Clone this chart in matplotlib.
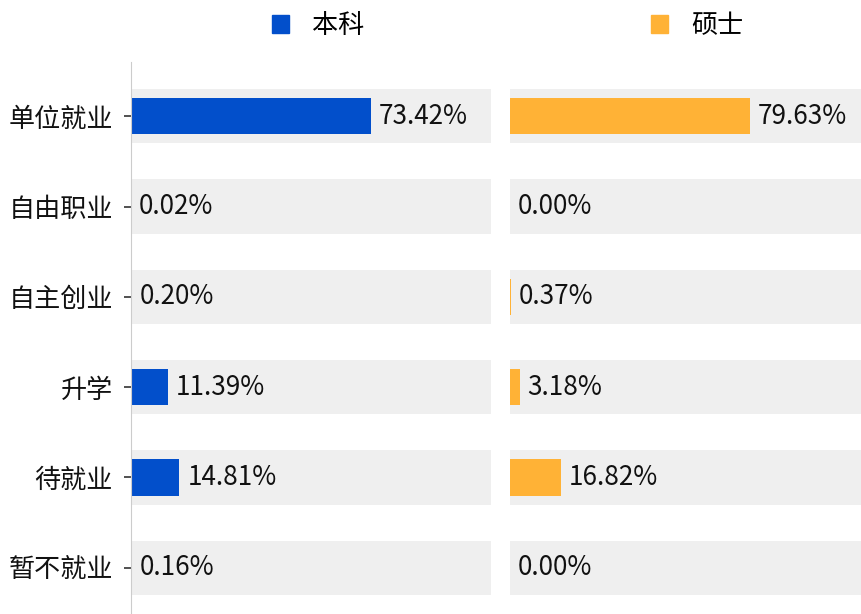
import matplotlib.pyplot as plt
from matplotlib.patches import Patch

plt.rcParams['font.family'] = ['Noto Sans CJK SC', 'DejaVu Sans']

categories = ['单位就业', '自由职业', '自主创业', '升学', '待就业', '暂不就业']
bachelor = [73.42, 0.02, 0.20, 11.39, 14.81, 0.16]
master = [79.63, 0.00, 0.37, 3.18, 16.82, 0.00]
series_names = ['本科', '硕士']
colors = ['#024FCB', '#FFB236']

fig = plt.figure(figsize=(8.61, 6.14), dpi=100)
W, H = 861, 614
ax_l = fig.add_axes([131 / W, 1 - 622 / H, 360 / W, 560 / H])
ax_r = fig.add_axes([510 / W, 1 - 622 / H, 360 / W, 560 / H])

FS = 18.8
ypos = list(range(len(categories)))
for ax, vals, name, col in [(ax_l, bachelor, series_names[0], colors[0]),
                            (ax_r, master, series_names[1], colors[1])]:
    xmax = max(vals) * 1.5
    ax.barh(ypos, [xmax] * len(vals), height=0.6, color='#EFEFEF', zorder=1)
    ax.barh(ypos, vals, height=0.4, color=col, zorder=2)
    for y, v in zip(ypos, vals):
        ax.text(v + xmax * 0.022, y, f'{v:.2f}%', va='center', ha='left',
                fontsize=FS, color='#111111', zorder=3)
    ax.set_xlim(0, xmax)
    ax.set_ylim(5.6, -0.6)
    ax.set_xticks([])
    for s in ['top', 'right', 'bottom']:
        ax.spines[s].set_visible(False)
    ax.legend(handles=[Patch(color=col)], labels=[name], loc='center',
              bbox_to_anchor=(0.52, 1.065), frameon=False, fontsize=FS,
              handlelength=0.65, handleheight=0.65, handletextpad=0.9)

ax_l.spines['left'].set_color('#CCCCCC')
ax_l.set_yticks(ypos)
ax_l.set_yticklabels(categories, fontsize=FS, color='#111111')
ax_l.tick_params(axis='y', length=5, width=1.2, color='#333333', pad=8)

ax_r.spines['left'].set_visible(False)
ax_r.set_yticks([])

fig.savefig('out.png', dpi=100)
